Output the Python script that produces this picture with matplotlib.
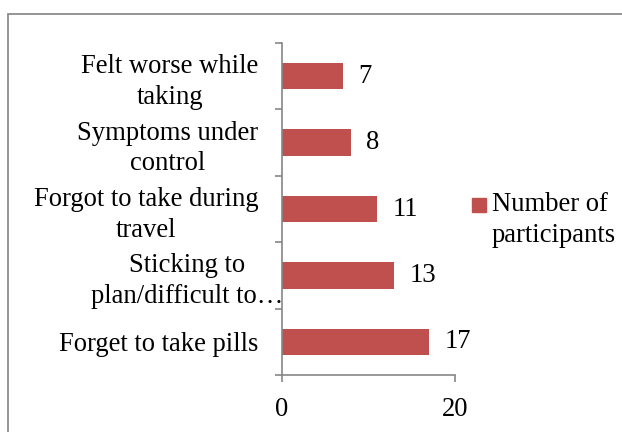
import matplotlib.pyplot as plt
import numpy as np
from matplotlib.patches import Rectangle
from matplotlib.transforms import ScaledTranslation

# data, top to bottom as shown in the chart
reasons = ['Felt worse while\ntaking',
           'Symptoms under\ncontrol',
           'Forgot to take during\ntravel',
           'Sticking to\nplan/difficult to\u2026',
           'Forget to take pills']
participants = [7, 8, 11, 13, 17]
series_name = 'Number of\nparticipants'

bar_color = '#C0504D'
axis_gray = '#868686'
fs = 19.2

plt.rcParams['font.family'] = ['Liberation Serif', 'DejaVu Serif']

fig = plt.figure(figsize=(6.22, 4.32), dpi=100)
ax = fig.add_axes([282 / 622, 1 - 375 / 432, 173 / 622, 332 / 432])

# bottom category first
y = np.arange(len(reasons))[::-1]
bars = ax.barh(y, participants, height=0.4, color=bar_color)

for b, v in zip(bars, participants):
    ax.annotate(str(v), (b.get_width(), b.get_y() + b.get_height() / 2),
                xytext=(11, 0), textcoords='offset points',
                ha='left', va='center', fontsize=fs)

ax.set_xlim(0, 20)
ax.set_ylim(-0.5, len(reasons) - 0.5)
ax.set_xticks([0, 20])
ax.set_yticks(np.arange(len(reasons) + 1) - 0.5)
ax.set_yticklabels([])
ax.set_yticks(y, minor=True)
ax.set_yticklabels(reasons, minor=True, ha='right', multialignment='center',
                   linespacing=1.3)

ax.tick_params(axis='x', length=5, width=1.2, color=axis_gray, labelsize=fs, pad=11)
ax.tick_params(axis='y', which='major', length=5, width=1.2, color=axis_gray)
ax.tick_params(axis='y', which='minor', length=0, labelsize=fs, pad=17)

for s in ['top', 'right']:
    ax.spines[s].set_visible(False)
for s in ['left', 'bottom']:
    ax.spines[s].set_color(axis_gray)
    ax.spines[s].set_linewidth(1.2)

# the clipped label sits a bit closer to the axis
for lbl in ax.get_yticklabels(minor=True):
    if lbl.get_text().startswith('Sticking'):
        lbl.set_transform(lbl.get_transform() + ScaledTranslation(0.25, 0, fig.dpi_scale_trans))

# legend drawn by hand so the key lines up with the first text line
fig.patches.append(Rectangle((472 / 622, 1 - 212 / 432), 14 / 622, 14 / 432,
                             transform=fig.transFigure, color=bar_color))
fig.text(492 / 622, 1 - 192 / 432, series_name, ha='left', va='top',
         fontsize=fs, linespacing=1.3)

# chart area border (clipped at right/bottom like the original)
fig.patches.append(Rectangle((8 / 622, -0.05), 1.0, 1 - 14 / 432 + 0.05,
                             transform=fig.transFigure, fill=False,
                             edgecolor='#8C8C8C', linewidth=1.3))

fig.savefig('out.png', dpi=100)
